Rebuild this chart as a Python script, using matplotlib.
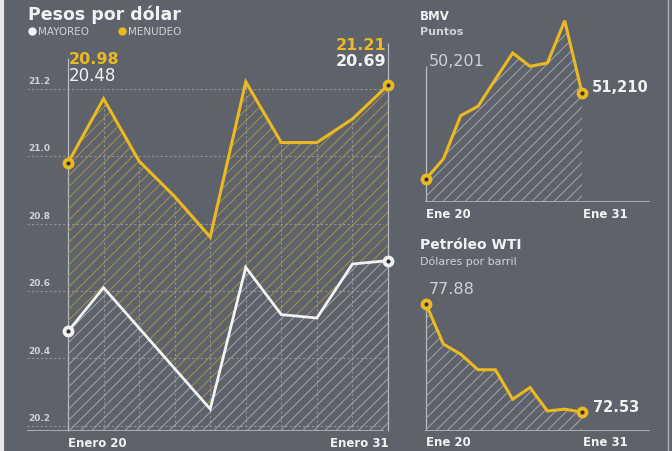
import matplotlib.pyplot as plt
from matplotlib.lines import Line2D

# datos (10 sesiones, 20 al 31 de enero)
dias = list(range(10))
menudeo = [20.98, 21.17, 20.985, 20.88, 20.76, 21.22, 21.04, 21.04, 21.11, 21.21]
mayoreo = [20.48, 20.61, 20.49, 20.37, 20.25, 20.67, 20.53, 20.52, 20.68, 20.69]
bmv = [50201, 50436, 50944, 51054, 51370, 51679, 51523, 51562, 52058, 51210]
wti = [77.88, 75.90, 75.40, 74.63, 74.63, 73.17, 73.75, 72.59, 72.68, 72.53]
y_ticks = [20.2, 20.4, 20.6, 20.8, 21.0, 21.2]
y_labels = ['20.2', '20.4', '20.6', '20.8', '21.0', '21.2']

FONDO = '#5e626b'
AMARILLO = '#ebb920'
BLANCO = '#f2f2f2'
GRIS = '#cfd1d5'
REJILLA = '#90939b'

plt.rcParams['font.family'] = ['DejaVu Sans']
plt.rcParams['hatch.linewidth'] = 0.7

W, H = 672, 452
fig = plt.figure(figsize=(W / 100, H / 100), dpi=100, facecolor=FONDO)


def caja(x0, x1, y_top, y_bot):
    # pixel box -> figure coords
    return [x0 / W, 1 - y_bot / H, (x1 - x0) / W, (y_bot - y_top) / H]


def texto(x, y, s, **kw):
    kw.setdefault('va', 'center')
    fig.text(x / W, 1 - y / H, s, **kw)


def punto(ax, x, y, color):
    ax.plot([x], [y], 'o', ms=7.5, color=color, zorder=6, clip_on=False)
    ax.plot([x], [y], 'o', ms=2, color='#333333', zorder=7, clip_on=False)


def limpiar(ax):
    ax.set_facecolor('none')
    for s in ax.spines.values():
        s.set_visible(False)
    ax.set_xticks([])
    ax.set_yticks([])


# ---- panel principal: pesos por dolar ----
ax = fig.add_axes(caja(27, 398, 40, 432))
limpiar(ax)
ybot = 20.185
ax.set_xlim(-1.153, 9.281)
ax.set_ylim(ybot, 21.347)

for t, lab in zip(y_ticks, y_labels):
    ax.axhline(t, xmax=0.96, color=REJILLA, lw=0.8, ls=(0, (2, 2)), zorder=1)
    ax.annotate(lab, (-1.153, t), xytext=(1, 6), textcoords='offset points',
                color=GRIS, fontsize=6.5, fontweight='bold', va='center', ha='left')
ax.axhline(ybot, xmax=0.96, color='#b8bac0', lw=1.2, zorder=2)
ax.vlines(dias[1:-1], ybot, menudeo[1:-1], color=REJILLA, lw=0.8, ls=(0, (2, 2)), zorder=1)
ax.vlines([0], ybot, 21.29, color='#b8bac0', lw=0.9, zorder=1, clip_on=False)
ax.vlines([9], ybot, 21.335, color='#b8bac0', lw=0.9, zorder=1, clip_on=False)

ax.fill_between(dias, mayoreo, menudeo, facecolor='none', edgecolor='#a8944a',
                hatch='///', linewidth=0, zorder=2)
ax.fill_between(dias, ybot, mayoreo, facecolor='none', edgecolor='#a4a6ad',
                hatch='///', linewidth=0, zorder=2)
ax.plot(dias, menudeo, color=AMARILLO, lw=2.2, zorder=4, solid_joinstyle='miter')
ax.plot(dias, mayoreo, color=BLANCO, lw=2.0, zorder=4, solid_joinstyle='miter')
for i in (0, 9):
    punto(ax, dias[i], menudeo[i], AMARILLO)
    punto(ax, dias[i], mayoreo[i], BLANCO)

texto(28, 15, 'Pesos por dólar', color=BLANCO, fontsize=12.5, fontweight='bold')
fig.add_artist(Line2D([32 / W], [1 - 32 / H], marker='o', ms=5, color=BLANCO,
                      transform=fig.transFigure))
texto(38, 32, 'MAYOREO', color=GRIS, fontsize=7.5)
fig.add_artist(Line2D([122 / W], [1 - 32 / H], marker='o', ms=5, color=AMARILLO,
                      transform=fig.transFigure))
texto(128, 32, 'MENUDEO', color=GRIS, fontsize=7.5)

texto(69, 60, f'{menudeo[0]:.2f}', color=AMARILLO, fontsize=11.5, fontweight='bold')
texto(69, 76, f'{mayoreo[0]:.2f}', color=BLANCO, fontsize=12)
texto(386, 45, f'{menudeo[-1]:.2f}', color=AMARILLO, fontsize=11.5, fontweight='bold', ha='right')
texto(386, 61, f'{mayoreo[-1]:.2f}', color=BLANCO, fontsize=11.5, fontweight='bold', ha='right')
texto(68, 444, 'Enero 20', color=BLANCO, fontsize=8.5, fontweight='bold')
texto(389, 444, 'Enero 31', color=BLANCO, fontsize=8.5, fontweight='bold', ha='right')

# ---- BMV ----
ax2 = fig.add_axes(caja(425, 650, 15, 203))
limpiar(ax2)
b_bot = 49931
ax2.set_xlim(-0.06, 12.92)
ax2.set_ylim(b_bot, 52137)
ax2.axhline(b_bot, color='#b8bac0', lw=1.2, zorder=2)
ax2.vlines([0], b_bot, 51527, color='#b8bac0', lw=0.9, zorder=1)
ax2.fill_between(dias, b_bot, bmv, facecolor='none', edgecolor='#a4a6ad',
                 hatch='///', linewidth=0, zorder=2)
ax2.plot(dias, bmv, color=AMARILLO, lw=2.2, zorder=4, solid_joinstyle='miter')
for i in (0, 9):
    punto(ax2, dias[i], bmv[i], AMARILLO)

texto(420, 16, 'BMV', color=BLANCO, fontsize=8.5, fontweight='bold')
texto(420, 32, 'Puntos', color=GRIS, fontsize=8, fontweight='bold')
texto(429, 62, f'{bmv[0]:,}', color=GRIS, fontsize=11.5)
texto(592, 88, f'{bmv[-1]:,}', color=BLANCO, fontsize=10.5, fontweight='bold')
texto(426, 215, 'Ene 20', color=BLANCO, fontsize=8.5, fontweight='bold')
texto(583, 215, 'Ene 31', color=BLANCO, fontsize=8.5, fontweight='bold')

# ---- Petroleo WTI ----
ax3 = fig.add_axes(caja(425, 650, 280, 432))
limpiar(ax3)
w_bot = 71.60
ax3.set_xlim(-0.06, 12.92)
ax3.set_ylim(w_bot, 79.12)
ax3.axhline(w_bot, color='#b8bac0', lw=1.2, zorder=2)
ax3.vlines([0], w_bot, wti[0], color='#b8bac0', lw=0.9, zorder=1)
ax3.fill_between(dias, w_bot, wti, facecolor='none', edgecolor='#a4a6ad',
                 hatch='///', linewidth=0, zorder=2)
ax3.plot(dias, wti, color=AMARILLO, lw=2.2, zorder=4, solid_joinstyle='miter')
for i in (0, 9):
    punto(ax3, dias[i], wti[i], AMARILLO)

texto(420, 245, 'Petróleo WTI', color=BLANCO, fontsize=10, fontweight='bold')
texto(420, 262, 'Dólares por barril', color=GRIS, fontsize=8)
texto(429, 290, f'{wti[0]:.2f}', color=GRIS, fontsize=11.5)
texto(593, 408, f'{wti[-1]:.2f}', color=BLANCO, fontsize=10.5, fontweight='bold')
texto(426, 443, 'Ene 20', color=BLANCO, fontsize=8.5, fontweight='bold')
texto(583, 443, 'Ene 31', color=BLANCO, fontsize=8.5, fontweight='bold')

# bordes de la imagen
fig.add_artist(Line2D([2 / W, 2 / W], [0, 1], color='#e8e8ea', lw=3,
                      transform=fig.transFigure))
fig.add_artist(Line2D([668 / W, 668 / W], [0, 1], color='#aeb0b6', lw=1,
                      transform=fig.transFigure))

fig.savefig('out.png', dpi=100, facecolor=FONDO)
